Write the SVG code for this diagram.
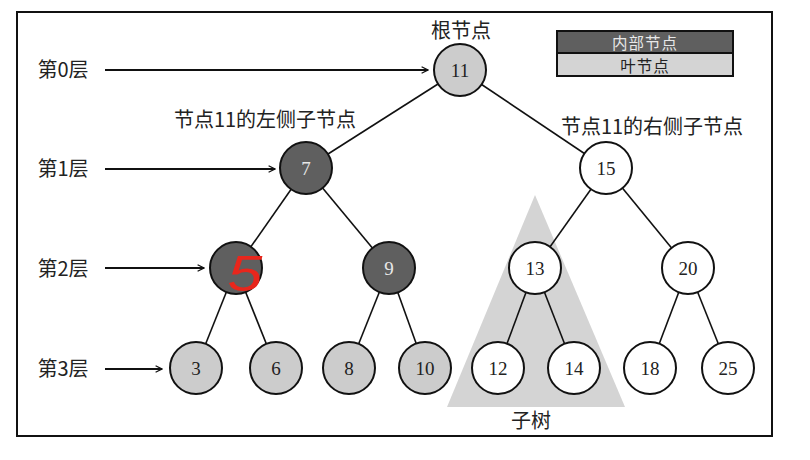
<svg xmlns="http://www.w3.org/2000/svg" width="810" height="460" viewBox="0 0 810 460">
<style>
.cn{font-family:"Noto Sans CJK SC","Liberation Serif",serif;font-size:20px;fill:#222;text-anchor:middle}
.lg{font-family:"Noto Sans CJK SC","Liberation Serif",serif;font-size:15.5px;text-anchor:middle;dominant-baseline:central}
.num{font-family:"Liberation Serif",serif;font-size:19px;text-anchor:middle;dominant-baseline:central}
.leaf circle{fill:#cccccc}
.inner circle{fill:#5f5f5f}
.plain circle{fill:#ffffff}
circle{stroke:#111;stroke-width:2}
.leaf text,.plain text{fill:#222}
.inner text{fill:#e8e8e8}
.edge line{stroke:#111;stroke-width:1.6}
.arr line{stroke:#111;stroke-width:2}
</style>
<defs>
<marker id="ah" viewBox="0 0 10 10" refX="9" refY="5" markerWidth="8" markerHeight="8" orient="auto" markerUnits="userSpaceOnUse">
<path d="M1,1 L9,5 L1,9" fill="none" stroke="#111" stroke-width="1.6"/>
</marker>
</defs>
<rect x="0" y="0" width="810" height="460" fill="#ffffff"/>
<rect x="17" y="12" width="755" height="424" fill="#ffffff" stroke="#111" stroke-width="2"/>
<polygon points="535,195 447,407 625,407" fill="#d4d4d4"/>
<g id="legend">
<rect x="557" y="31" width="176" height="22" fill="#5f5f5f" stroke="#111" stroke-width="2"/>
<rect x="557" y="53" width="176" height="23" fill="#d4d4d4" stroke="#111" stroke-width="2"/>
<text class="lg" x="645" y="42" style="fill:#e8e8e8;letter-spacing:1px">内部节点</text>
<text class="lg" x="645" y="64.5" style="fill:#222;letter-spacing:1px">叶节点</text>
</g>
<g id="labels">
<text class="cn" x="461" y="38">根节点</text>
<text class="cn" x="265" y="127">节点11的左侧子节点</text>
<text class="cn" x="652" y="134">节点11的右侧子节点</text>
<text class="cn" x="531" y="428">子树</text>
<text class="cn" x="63" y="77">第0层</text>
<text class="cn" x="63" y="176">第1层</text>
<text class="cn" x="63" y="276">第2层</text>
<text class="cn" x="63" y="376">第3层</text>
</g>
<g id="connectors">
<g class="arr">
<line x1="105" y1="70" x2="428" y2="70" marker-end="url(#ah)"/>
<line x1="105" y1="169" x2="275" y2="169" marker-end="url(#ah)"/>
<line x1="105" y1="268" x2="204" y2="268" marker-end="url(#ah)"/>
<line x1="105" y1="369" x2="162" y2="369" marker-end="url(#ah)"/>
</g>
<g class="edge">
<line x1="460" y1="70" x2="306" y2="168"/>
<line x1="460" y1="70" x2="606" y2="168"/>
<line x1="306" y1="168" x2="236" y2="268"/>
<line x1="306" y1="168" x2="389" y2="268"/>
<line x1="606" y1="168" x2="535" y2="268"/>
<line x1="606" y1="168" x2="688" y2="268"/>
<line x1="236" y1="268" x2="196" y2="368"/>
<line x1="236" y1="268" x2="276" y2="368"/>
<line x1="389" y1="268" x2="349" y2="368"/>
<line x1="389" y1="268" x2="425" y2="368"/>
<line x1="535" y1="268" x2="498" y2="368"/>
<line x1="535" y1="268" x2="574" y2="368"/>
<line x1="688" y1="268" x2="650" y2="368"/>
<line x1="688" y1="268" x2="728" y2="368"/>
</g>
</g>
<g id="n11" class="leaf"><circle cx="460" cy="70" r="26"/><text class="num" x="460" y="70">11</text></g>
<g id="n7" class="inner"><circle cx="306" cy="168" r="26"/><text class="num" x="306" y="168">7</text></g>
<g id="n15" class="plain"><circle cx="606" cy="168" r="26"/><text class="num" x="606" y="168">15</text></g>
<g id="n5" class="inner"><circle cx="236" cy="268" r="26"/><text x="0" y="0" transform="translate(245,291) scale(1.25,1)" style="font-family:'Liberation Sans',sans-serif;font-size:50px;fill:#e8261c;text-anchor:middle;font-style:italic">5</text></g>
<g id="n9" class="inner"><circle cx="389" cy="268" r="26"/><text class="num" x="389" y="268">9</text></g>
<g id="n13" class="plain"><circle cx="535" cy="268" r="26"/><text class="num" x="535" y="268">13</text></g>
<g id="n20" class="plain"><circle cx="688" cy="268" r="26"/><text class="num" x="688" y="268">20</text></g>
<g id="n3" class="leaf"><circle cx="196" cy="368" r="26"/><text class="num" x="196" y="368">3</text></g>
<g id="n6" class="leaf"><circle cx="276" cy="368" r="26"/><text class="num" x="276" y="368">6</text></g>
<g id="n8" class="leaf"><circle cx="349" cy="368" r="26"/><text class="num" x="349" y="368">8</text></g>
<g id="n10" class="leaf"><circle cx="425" cy="368" r="26"/><text class="num" x="425" y="368">10</text></g>
<g id="n12" class="plain"><circle cx="498" cy="368" r="26"/><text class="num" x="498" y="368">12</text></g>
<g id="n14" class="plain"><circle cx="574" cy="368" r="26"/><text class="num" x="574" y="368">14</text></g>
<g id="n18" class="plain"><circle cx="650" cy="368" r="26"/><text class="num" x="650" y="368">18</text></g>
<g id="n25" class="plain"><circle cx="728" cy="368" r="26"/><text class="num" x="728" y="368">25</text></g>
</svg>
